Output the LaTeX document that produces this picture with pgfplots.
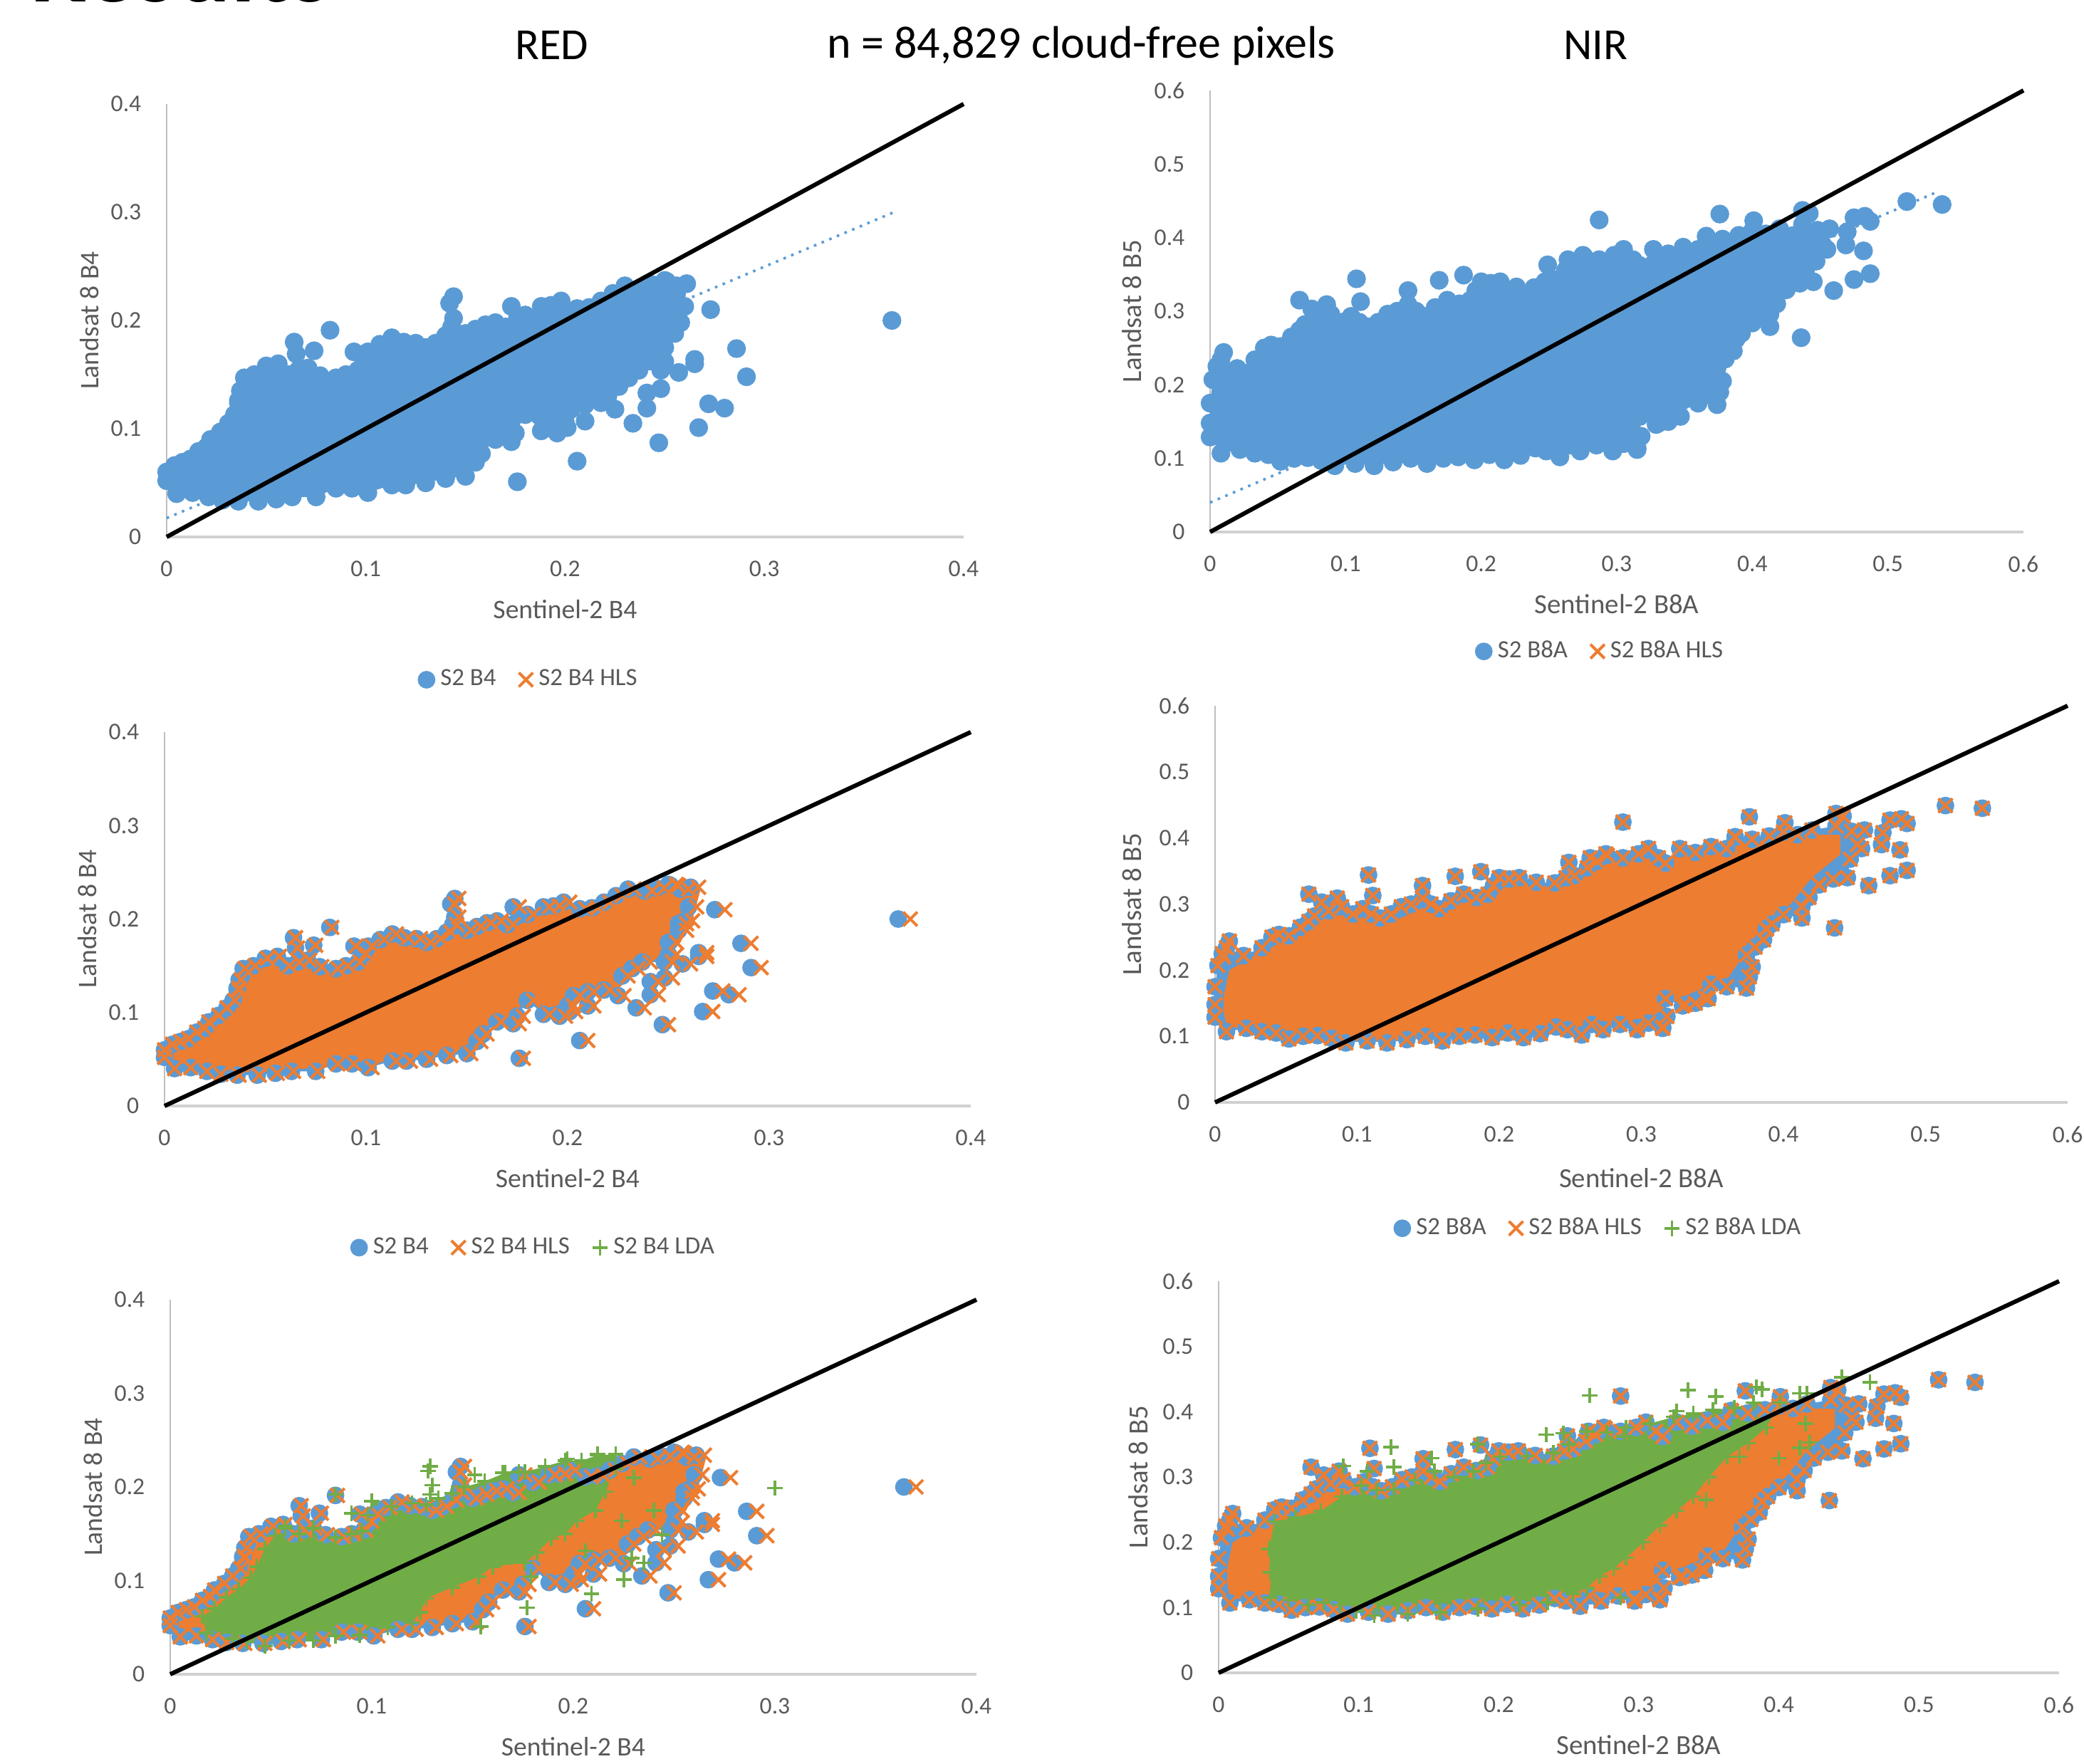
\documentclass[border=0pt]{standalone}
\usepackage{fontspec}
\setmainfont{Carlito}
\usepackage{pgfplots}
\usepackage{pgfplotstable}
\pgfplotsset{compat=1.18}
\definecolor{cblue}{HTML}{5B9BD5}
\definecolor{corange}{HTML}{ED7D31}
\definecolor{cgreen}{HTML}{70AD47}
\definecolor{ctext}{HTML}{595959}
\definecolor{caxisx}{HTML}{D0D0D0}
\definecolor{caxisy}{HTML}{BFBFBF}

\pgfplotstableread{
x y hx
0 0.06 0
0.004 0.066 0.004
0.008 0.069 0.008
0.012 0.072 0.012
0.016 0.079 0.016
0.02 0.083 0.02
0.022 0.09 0.022
0.027 0.097 0.027
0.031 0.105 0.031
0.034 0.113 0.035
0.036 0.124 0.037
0.037 0.135 0.038
0.039 0.147 0.04
0.044 0.15 0.045
0.05 0.158 0.051
0.056 0.16 0.057
0.061 0.15 0.062
0.066 0.154 0.067
0.071 0.156 0.072
0.077 0.149 0.078
0.085 0.147 0.086
0.09 0.15 0.091
0.096 0.154 0.097
0.099 0.163 0.1
0.101 0.171 0.103
0.107 0.178 0.109
0.113 0.184 0.115
0.119 0.18 0.121
0.125 0.179 0.127
0.13 0.175 0.132
0.135 0.179 0.137
0.14 0.186 0.142
0.143 0.194 0.145
0.15 0.188 0.152
0.155 0.192 0.157
0.16 0.196 0.162
0.165 0.198 0.167
0.17 0.194 0.173
0.173 0.213 0.176
0.18 0.205 0.183
0.188 0.213 0.191
0.193 0.214 0.196
0.198 0.218 0.201
0.206 0.211 0.209
0.212 0.212 0.215
0.218 0.218 0.221
0.224 0.225 0.227
0.23 0.232 0.233
0.238 0.23 0.242
0.244 0.233 0.248
0.25 0.237 0.254
0.256 0.232 0.26
0.261 0.234 0.265
0.26 0.213 0.264
0.258 0.198 0.262
0.255 0.188 0.259
0.25 0.175 0.254
0.25 0.162 0.254
0.248 0.154 0.252
0.237 0.154 0.241
0.232 0.147 0.235
0.227 0.139 0.23
0.225 0.118 0.228
0.218 0.124 0.221
0.21 0.122 0.213
0.203 0.118 0.206
0.2 0.107 0.203
0.196 0.096 0.199
0.188 0.098 0.191
0.18 0.113 0.183
0.175 0.096 0.178
0.173 0.088 0.176
0.165 0.09 0.167
0.158 0.077 0.16
0.155 0.069 0.157
0.15 0.056 0.152
0.14 0.054 0.142
0.13 0.05 0.132
0.12 0.048 0.122
0.113 0.048 0.115
0.101 0.041 0.103
0.093 0.045 0.094
0.085 0.045 0.086
0.075 0.037 0.076
0.063 0.037 0.064
0.055 0.035 0.056
0.046 0.033 0.047
0.036 0.033 0.037
0.028 0.034 0.028
0.021 0.037 0.021
0.013 0.041 0.013
0.005 0.04 0.005
0 0.052 0
}\redblue
\pgfplotstableread{
x y hx
0.364 0.2 0.37
0.273 0.21 0.278
0.286 0.174 0.291
0.291 0.148 0.296
0.272 0.123 0.277
0.28 0.119 0.285
0.267 0.101 0.272
0.247 0.087 0.25
0.206 0.07 0.21
0.176 0.051 0.178
0.234 0.105 0.238
0.21 0.107 0.213
0.241 0.119 0.245
0.241 0.133 0.245
0.248 0.137 0.252
0.257 0.152 0.261
0.265 0.164 0.269
0.265 0.16 0.269
0.082 0.191 0.083
0.064 0.18 0.065
0.074 0.172 0.075
0.065 0.169 0.066
0.094 0.171 0.095
0.144 0.222 0.146
0.142 0.216 0.144
0.144 0.202 0.146
0.036 0.126 0.037
0.201 0.101 0.204
0.255 0.195 0.259
0.251 0.236 0.255
}\redout
\pgfplotstableread{
x y
0.003 0.056
0.01 0.066
0.02 0.077
0.027 0.09
0.034 0.105
0.04 0.125
0.043 0.14
0.052 0.152
0.062 0.146
0.072 0.15
0.086 0.142
0.097 0.148
0.105 0.168
0.115 0.178
0.127 0.174
0.137 0.174
0.147 0.186
0.152 0.183
0.162 0.19
0.174 0.192
0.182 0.2
0.19 0.207
0.2 0.212
0.208 0.206
0.22 0.213
0.232 0.226
0.24 0.224
0.255 0.231
0.266 0.232
0.262 0.2
0.256 0.175
0.25 0.16
0.24 0.155
0.232 0.14
0.225 0.125
0.21 0.127
0.2 0.11
0.19 0.105
0.18 0.115
0.172 0.095
0.16 0.085
0.152 0.07
0.15 0.06
0.14 0.058
0.116 0.05
0.1 0.044
0.07 0.04
0.047 0.036
0.027 0.037
0.005 0.044
}\redorange
\pgfplotstableread{
x y
0.016 0.062
0.022 0.07
0.028 0.082
0.034 0.091
0.04 0.103
0.043 0.115
0.047 0.134
0.052 0.148
0.057 0.156
0.064 0.15
0.071 0.156
0.072 0.141
0.082 0.146
0.09 0.15
0.095 0.153
0.098 0.17
0.1 0.185
0.11 0.179
0.12 0.183
0.127 0.181
0.133 0.188
0.14 0.193
0.146 0.2
0.156 0.206
0.166 0.215
0.176 0.216
0.186 0.222
0.196 0.228
0.204 0.228
0.212 0.234
0.221 0.235
0.221 0.22
0.216 0.195
0.211 0.175
0.202 0.164
0.196 0.15
0.189 0.145
0.182 0.13
0.176 0.119
0.16 0.115
0.153 0.104
0.14 0.093
0.127 0.081
0.124 0.066
0.12 0.055
0.108 0.05
0.094 0.042
0.082 0.041
0.071 0.036
0.059 0.036
0.047 0.03
0.038 0.035
0.031 0.038
0.018 0.044
}\redgreen
\pgfplotstableread{
x y
0.3 0.199
0.129 0.222
0.128 0.217
0.13 0.202
0.129 0.192
0.09 0.172
0.197 0.23
0.212 0.235
0.23 0.21
0.24 0.175
0.244 0.149
0.235 0.119
0.225 0.101
0.209 0.086
0.177 0.071
0.154 0.051
0.229 0.124
0.224 0.164
0.082 0.192
0.151 0.213
0.165 0.215
0.173 0.216
0.057 0.158
0.179 0.104
0.206 0.132
}\redgout
\pgfplotstableread{
x y
0 0.148
0 0.175
0.002 0.207
0.005 0.225
0.008 0.234
0.02 0.222
0.033 0.234
0.04 0.25
0.045 0.254
0.052 0.252
0.06 0.265
0.066 0.274
0.07 0.282
0.08 0.29
0.089 0.296
0.097 0.285
0.104 0.293
0.11 0.285
0.116 0.279
0.124 0.285
0.131 0.296
0.138 0.3
0.146 0.309
0.152 0.3
0.158 0.293
0.166 0.305
0.175 0.315
0.184 0.31
0.192 0.315
0.196 0.328
0.2 0.34
0.207 0.338
0.214 0.34
0.226 0.333
0.239 0.332
0.247 0.34
0.253 0.343
0.262 0.355
0.269 0.365
0.275 0.376
0.287 0.37
0.298 0.376
0.305 0.384
0.312 0.37
0.317 0.362
0.327 0.384
0.338 0.378
0.349 0.387
0.36 0.384
0.366 0.401
0.378 0.398
0.39 0.403
0.4 0.409
0.41 0.405
0.42 0.412
0.437 0.418
0.448 0.41
0.457 0.412
0.452 0.39
0.447 0.368
0.445 0.34
0.435 0.338
0.425 0.329
0.418 0.31
0.413 0.296
0.413 0.279
0.4 0.284
0.392 0.27
0.388 0.262
0.386 0.246
0.38 0.235
0.374 0.223
0.378 0.205
0.376 0.19
0.374 0.173
0.36 0.175
0.349 0.179
0.347 0.157
0.338 0.15
0.329 0.146
0.317 0.157
0.318 0.13
0.315 0.112
0.305 0.12
0.297 0.11
0.285 0.118
0.273 0.11
0.265 0.118
0.258 0.102
0.248 0.11
0.24 0.114
0.229 0.104
0.217 0.098
0.206 0.105
0.195 0.098
0.183 0.102
0.172 0.1
0.16 0.093
0.148 0.1
0.135 0.095
0.121 0.09
0.107 0.093
0.092 0.09
0.082 0.097
0.072 0.101
0.062 0.1
0.052 0.096
0.043 0.105
0.033 0.107
0.022 0.112
0.008 0.107
0 0.129
}\nirblue
\pgfplotstableread{
x y
0.54 0.445
0.514 0.449
0.287 0.424
0.376 0.432
0.401 0.423
0.437 0.437
0.442 0.433
0.475 0.427
0.483 0.429
0.487 0.422
0.47 0.408
0.469 0.39
0.482 0.382
0.487 0.351
0.475 0.343
0.46 0.328
0.436 0.264
0.425 0.33
0.455 0.384
0.108 0.344
0.111 0.313
0.066 0.315
0.075 0.303
0.086 0.309
0.169 0.342
0.187 0.349
0.146 0.328
0.249 0.363
0.264 0.37
0.276 0.374
0.01 0.244
0.006 0.22
0.02 0.222
0.388 0.263
0.366 0.402
0.297 0.113
0.315 0.114
0.331 0.148
0.345 0.158
}\nirout
\pgfplotstableread{
x y
0.005 0.15
0.01 0.2
0.03 0.225
0.045 0.24
0.06 0.255
0.072 0.275
0.09 0.285
0.105 0.28
0.12 0.27
0.135 0.283
0.15 0.298
0.16 0.285
0.175 0.305
0.195 0.305
0.205 0.33
0.215 0.332
0.24 0.325
0.255 0.335
0.275 0.362
0.3 0.368
0.31 0.37
0.33 0.375
0.35 0.378
0.365 0.393
0.4 0.4
0.42 0.405
0.44 0.405
0.44 0.375
0.42 0.34
0.405 0.3
0.39 0.275
0.378 0.245
0.368 0.21
0.36 0.185
0.34 0.17
0.32 0.15
0.305 0.125
0.285 0.116
0.262 0.108
0.215 0.102
0.159 0.098
0.122 0.093
0.089 0.094
0.051 0.102
0.033 0.108
0.008 0.115
}\nirorange
\pgfplotstableread{
x y
0.037 0.154
0.036 0.19
0.04 0.232
0.055 0.238
0.073 0.248
0.088 0.27
0.102 0.287
0.113 0.28
0.125 0.281
0.14 0.295
0.154 0.309
0.168 0.3
0.182 0.309
0.191 0.322
0.201 0.331
0.22 0.332
0.239 0.337
0.25 0.35
0.263 0.37
0.277 0.368
0.291 0.376
0.308 0.382
0.325 0.392
0.339 0.397
0.353 0.403
0.368 0.406
0.382 0.414
0.401 0.414
0.391 0.376
0.378 0.352
0.363 0.331
0.35 0.3
0.339 0.27
0.327 0.248
0.315 0.226
0.303 0.2
0.291 0.176
0.282 0.16
0.272 0.148
0.263 0.13
0.253 0.121
0.235 0.108
0.215 0.104
0.185 0.098
0.158 0.093
0.135 0.09
0.111 0.088
0.098 0.095
0.087 0.104
0.075 0.108
0.064 0.104
0.05 0.112
0.037 0.115
}\nirgreen
\pgfplotstableread{
x y
0.265 0.425
0.335 0.433
0.355 0.423
0.327 0.401
0.384 0.438
0.388 0.434
0.415 0.428
0.42 0.428
0.445 0.453
0.465 0.445
0.234 0.365
0.123 0.346
0.185 0.35
0.152 0.329
0.089 0.317
0.106 0.309
0.125 0.315
0.287 0.115
0.415 0.345
0.422 0.353
0.4 0.329
0.246 0.367
0.289 0.362
0.372 0.331
0.348 0.265
0.419 0.382
}\nirgout

\newcommand{\ticksz}{\fontsize{8.4}{10}\selectfont}
\newcommand{\labsz}{\fontsize{9.4}{11}\selectfont}
\newcommand{\labszn}{\fontsize{9.7}{11}\selectfont}
\pgfplotsset{
  rsbase/.style={
    scale only axis, clip=false,
    axis x line*=bottom, axis y line*=left,
    x axis line style={draw=caxisx,line width=1pt,-},
    y axis line style={draw=caxisy,line width=0.5pt,-},
    major tick length=0pt, tick style={draw=none},
    every tick label/.append style={text=ctext,font=\ticksz},
    xticklabel style={anchor=center,yshift=-11.2pt},
    yticklabel style={anchor=east,xshift=-5.4pt},
    xlabel style={at={(axis description cs:0.5,0)},anchor=center,yshift=-25.3pt,text=ctext,font=\labsz},
    ylabel style={at={(axis description cs:0,0.5)},anchor=center,text=ctext,font=\labsz},
    legend cell align=left,
    legend columns=-1,
    legend style={draw=none,fill=none,font=\fontsize{8.7}{10}\selectfont\color{ctext},anchor=center,
      /tikz/every even column/.append style={column sep=6pt}},
  },
  rsred/.style={rsbase,xmin=0,xmax=0.4,ymin=0,ymax=0.4,
    xtick={0,0.1,0.2,0.3,0.4},ytick={0,0.1,0.2,0.3,0.4},
    xticklabels={0,0.1,0.2,0.3,0.4},yticklabels={0,0.1,0.2,0.3,0.4},
    xlabel={Sentinel-2 B4},ylabel={Landsat 8 B4}},
  rsnir/.style={rsbase,xmin=0,xmax=0.6,ymin=0,ymax=0.6,
    xtick={0,0.1,0.2,0.3,0.4,0.5,0.6},ytick={0,0.1,0.2,0.3,0.4,0.5,0.6},
    xticklabels={0,0.1,0.2,0.3,0.4,0.5,0.6},yticklabels={0,0.1,0.2,0.3,0.4,0.5,0.6},
    xlabel style={font=\labszn},ylabel style={font=\labszn},
    xlabel={Sentinel-2 B8A},ylabel={Landsat 8 B5}},
  ptblue/.style={only marks,mark=*,mark size=#1,mark options={draw=cblue,fill=cblue,solid}},
  ptorange/.style={only marks,mark=x,mark size=3.5pt,mark options={draw=corange,line width=1pt,solid}},
  ptgreen/.style={only marks,mark=+,mark size=2.7pt,mark options={draw=cgreen,line width=0.9pt,solid}},
  envblue/.style={fill=cblue,draw=none,mark=*,mark size=#1,mark options={draw=cblue,fill=cblue,solid},forget plot},
  coreorange/.style={fill=corange,draw=none,no marks,forget plot},
  edgeorange/.style={ptorange,forget plot},
  envgreen/.style={fill=cgreen,draw=none,mark=+,mark size=2.7pt,mark options={draw=cgreen,line width=0.9pt,solid},forget plot},
  diag/.style={black,line width=1.5pt,no marks,forget plot},
  trend/.style={cblue,line width=0.9pt,dotted,no marks,forget plot},
}
% the 1:1 line goes in its own axis, over the marks of the axis below
\newcommand{\diagaxis}[5]{%
\begin{axis}[scale only axis,clip=false,hide axis,at={(#1,#2)},anchor=origin,width=#3,height=#4,
  xmin=0,xmax=#5,ymin=0,ymax=#5]
\addplot[diag] coordinates {(0,0)(#5,#5)};
\end{axis}}

\begin{document}
\begin{tikzpicture}
\useasboundingbox (0pt,0pt) rectangle (731.5pt,619pt);

\node[font=\fontsize{35.4}{40}\selectfont\bfseries,anchor=base west,inner sep=0pt] at (10.5pt,618.4pt) {Results};
\node[font=\fontsize{15.6}{18}\selectfont,anchor=center] at (193.7pt,603pt) {RED};
\node[font=\fontsize{16}{18}\selectfont,anchor=center] at (379.5pt,603pt) {n = 84,829 cloud-free pixels};
\node[font=\fontsize{15.6}{18}\selectfont,anchor=center] at (560pt,603pt) {NIR};

% top left
\begin{axis}[rsred,at={(58.5pt,430.5pt)},anchor=origin,width=279.75pt,height=152pt,
  ylabel style={yshift=27pt}]
\addplot[trend] coordinates {(0,0.0174)(0.365,0.3)};
\addplot[envblue=3.1pt] table[x=x,y=y] {\redblue};
\addplot[ptblue=3.1pt,forget plot] table[x=x,y=y] {\redout};
\end{axis}
\diagaxis{58.5pt}{430.5pt}{279.75pt}{152pt}{0.4}

% top right
\begin{axis}[rsnir,at={(424.75pt,432.25pt)},anchor=origin,width=285.5pt,height=155pt,
  ylabel style={yshift=27.5pt}]
\addplot[trend] coordinates {(0,0.04)(0.535,0.461)};
\addplot[envblue=3.1pt] table[x=x,y=y] {\nirblue};
\addplot[ptblue=3.1pt,forget plot] table[x=x,y=y] {\nirout};
\end{axis}
\diagaxis{424.75pt}{432.25pt}{285.5pt}{155pt}{0.6}

% middle left
\begin{axis}[rsred,at={(57.75pt,230.75pt)},anchor=origin,width=283pt,height=131.25pt,
  ylabel style={yshift=27pt},
  legend style={at={(axis description cs:0.454,1.14)}}]
\addplot[envblue=2.9pt] table[x=x,y=y] {\redblue};
\addplot[ptblue=2.9pt] table[x=x,y=y] {\redout};
\addlegendentry{S2 B4}
\addplot[coreorange] table[x=x,y=y] {\redorange};
\addplot[edgeorange] table[x=hx,y=y] {\redblue};
\addplot[ptorange] table[x=hx,y=y] {\redout};
\addlegendentry{S2 B4 HLS}
\end{axis}
\diagaxis{57.75pt}{230.75pt}{283pt}{131.25pt}{0.4}

% middle right
\begin{axis}[rsnir,at={(426.5pt,232pt)},anchor=origin,width=299.25pt,height=139.25pt,
  xlabel style={yshift=-1.2pt},
  ylabel style={yshift=29.2pt},
  legend style={at={(axis description cs:0.454,1.137)}}]
\addplot[envblue=2.9pt] table[x=x,y=y] {\nirblue};
\addplot[ptblue=2.9pt] table[x=x,y=y] {\nirout};
\addlegendentry{S2 B8A}
\addplot[coreorange] table[x=x,y=y] {\nirorange};
\addplot[edgeorange] table[x=x,y=y] {\nirblue};
\addplot[ptorange] table[x=x,y=y] {\nirout};
\addlegendentry{S2 B8A HLS}
\end{axis}
\diagaxis{426.5pt}{232pt}{299.25pt}{139.25pt}{0.6}

% bottom left
\begin{axis}[rsred,at={(59.75pt,31.25pt)},anchor=origin,width=283pt,height=131.5pt,
  ylabel style={yshift=27pt},
  legend style={at={(axis description cs:0.453,1.139)}}]
\addplot[envblue=2.9pt] table[x=x,y=y] {\redblue};
\addplot[ptblue=2.9pt] table[x=x,y=y] {\redout};
\addlegendentry{S2 B4}
\addplot[coreorange] table[x=x,y=y] {\redorange};
\addplot[edgeorange] table[x=hx,y=y] {\redblue};
\addplot[ptorange] table[x=hx,y=y] {\redout};
\addlegendentry{S2 B4 HLS}
\addplot[envgreen] table[x=x,y=y] {\redgreen};
\addplot[ptgreen] table[x=x,y=y] {\redgout};
\addlegendentry{S2 B4 LDA}
\end{axis}
\diagaxis{59.75pt}{31.25pt}{283pt}{131.5pt}{0.4}

% bottom right
\begin{axis}[rsnir,at={(427.75pt,31.75pt)},anchor=origin,width=295pt,height=137.5pt,
  ylabel style={yshift=28.2pt},
  legend style={at={(axis description cs:0.454,1.135)}}]
\addplot[envblue=2.9pt] table[x=x,y=y] {\nirblue};
\addplot[ptblue=2.9pt] table[x=x,y=y] {\nirout};
\addlegendentry{S2 B8A}
\addplot[coreorange] table[x=x,y=y] {\nirorange};
\addplot[edgeorange] table[x=x,y=y] {\nirblue};
\addplot[ptorange] table[x=x,y=y] {\nirout};
\addlegendentry{S2 B8A HLS}
\addplot[envgreen] table[x=x,y=y] {\nirgreen};
\addplot[ptgreen] table[x=x,y=y] {\nirgout};
\addlegendentry{S2 B8A LDA}
\end{axis}
\diagaxis{427.75pt}{31.75pt}{295pt}{137.5pt}{0.6}
\end{tikzpicture}
\end{document}
